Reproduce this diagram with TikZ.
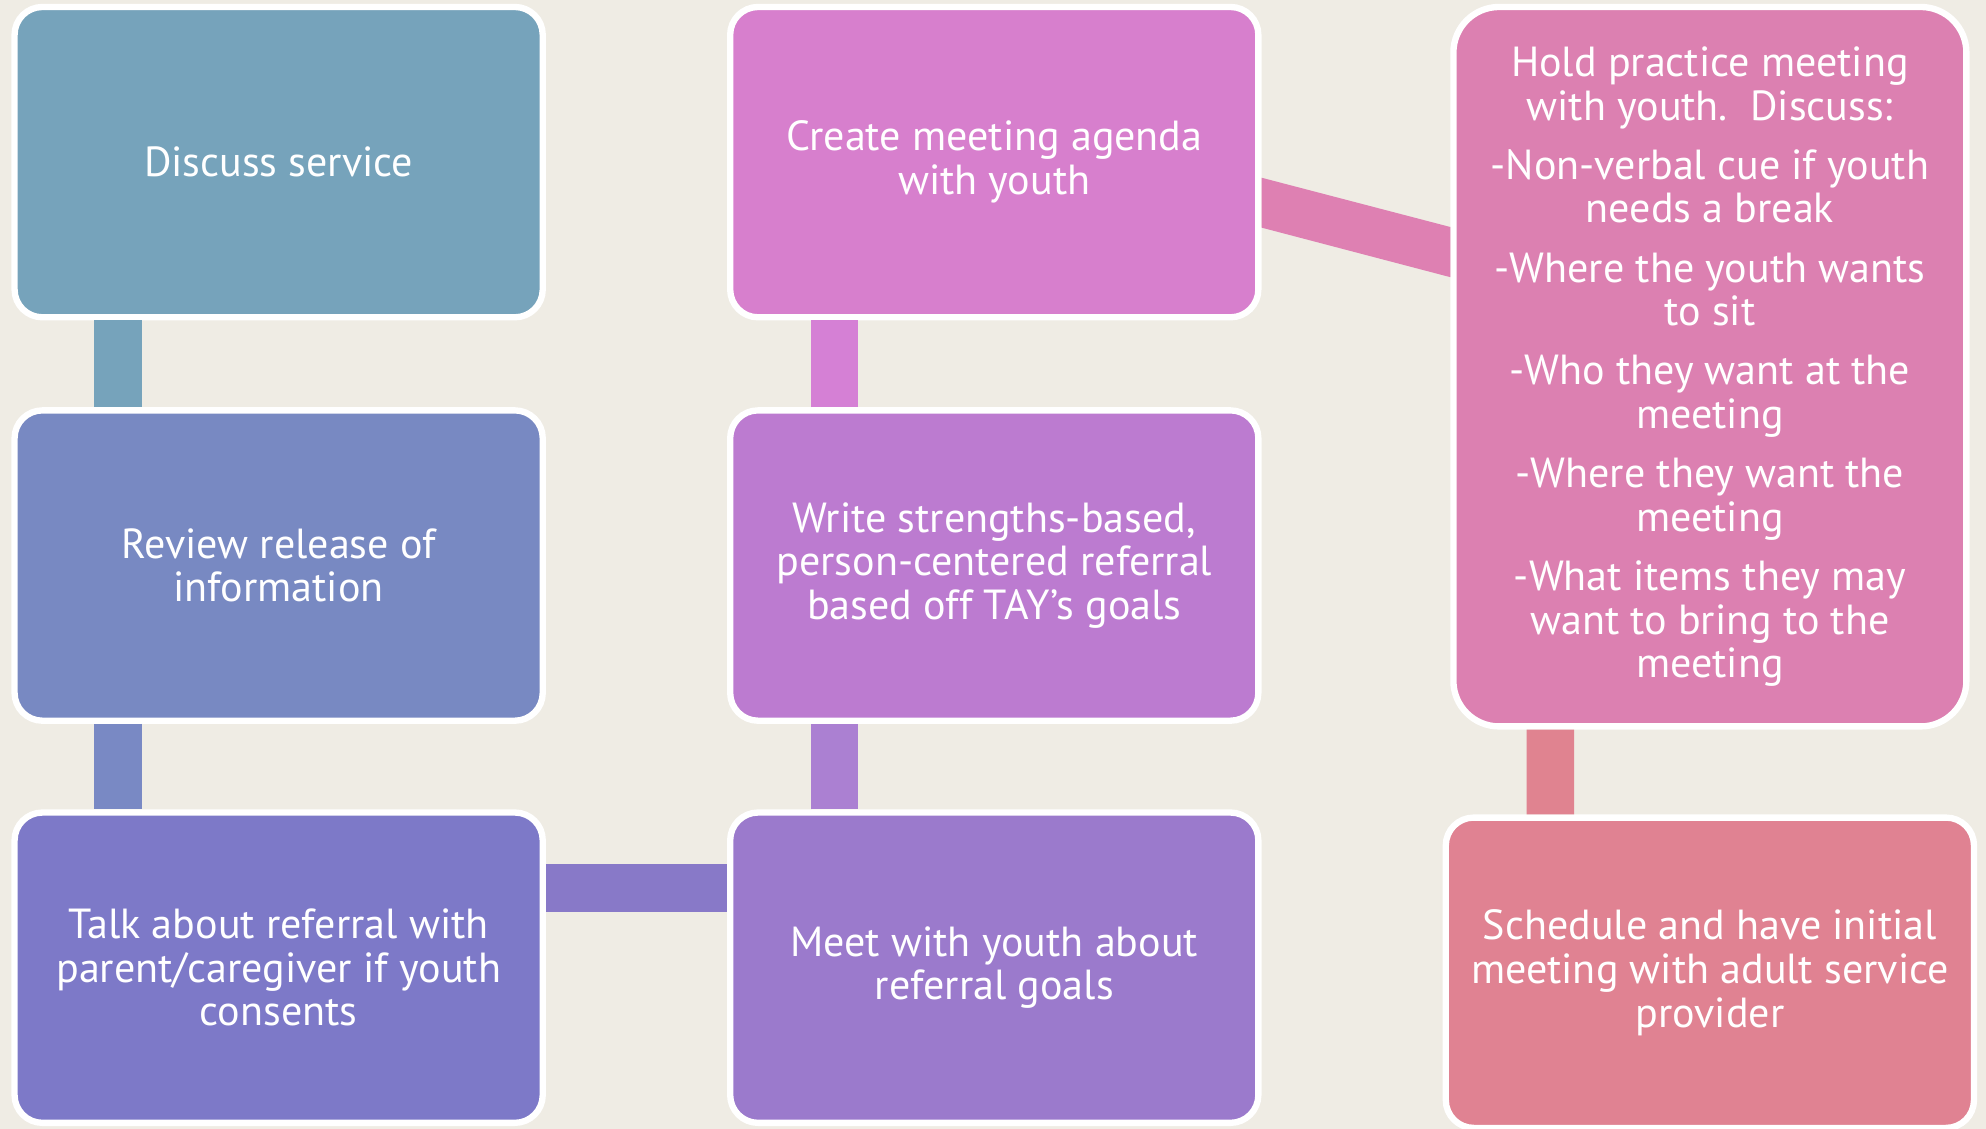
\documentclass[tikz,border=0pt]{standalone}
\usepackage{fontspec}
\setmainfont{PT Sans}
\usetikzlibrary{calc}
\definecolor{bg}{HTML}{EFECE4}
\definecolor{discC}{HTML}{76A3BB}
\definecolor{reviewC}{HTML}{7889C2}
\definecolor{talkC}{HTML}{7D79C8}
\definecolor{meetC}{HTML}{9B7ACC}
\definecolor{writeC}{HTML}{BC7BD0}
\definecolor{createC}{HTML}{D77FCD}
\definecolor{holdC}{HTML}{DC80B1}
\definecolor{schedC}{HTML}{E08292}
\definecolor{linkB}{HTML}{7989C4}
\definecolor{linkC}{HTML}{8879C8}
\definecolor{linkD}{HTML}{AB80D2}
\definecolor{linkE}{HTML}{D580D5}
\definecolor{linkF}{HTML}{DE80B2}
\definecolor{linkG}{HTML}{E08390}

\begin{document}
\begin{tikzpicture}[
  x=0.2mm, y=-0.2mm,
  stepbox/.style={draw=white, line width=1mm, rounded corners=4.4mm, minimum width=83.4mm, minimum height=49mm, align=center, text=white, inner sep=0pt, font=\fontsize{18.9}{19.6}\selectfont},
  bar/.style={line width=7.5mm},
]
\fill[bg] (0,0) rectangle (1568,891);
\useasboundingbox (0,0) rectangle (1568,891);

% first column
\node[stepbox, fill=discC] (disc) at (220,128) {Discuss service};
\node[stepbox, fill=reviewC] (review) at (220,446.5) {Review release of\\information};
\node[stepbox, fill=talkC] (talk) at (220,764) {Talk about referral with\\parent/caregiver if youth\\consents};

% second column
\node[stepbox, fill=meetC] (meet) at (785,764) {Meet with youth about\\referral goals};
\node[stepbox, fill=writeC] (write) at (785,446.5) {Write strengths-based,\\person-centered referral\\based off TAY’s goals};
\node[stepbox, fill=createC] (create) at (785,128) {Create meeting agenda\\with youth};

% third column
\node[stepbox, fill=holdC, minimum width=81mm, minimum height=113.6mm, rounded corners=7.2mm] (hold) at (1350,289.5)
  {Hold practice meeting\\with youth.\ \ Discuss:\\[7pt]
   -Non-verbal cue if youth\\needs a break\\[7pt]
   -Where the youth wants\\to sit\\[7pt]
   -Who they want at the\\meeting\\[7pt]
   -Where they want the\\meeting\\[7pt]
   -What items they may\\want to bring to the\\meeting};
\node[stepbox, fill=schedC] (sched) at (1350,768) {Schedule and have initial\\meeting with adult service\\provider};

% links
\draw[bar, discC] ($(disc.south west)+(84,0)$) -- ($(review.north west)+(84,0)$);
\draw[bar, linkB] ($(review.south west)+(84,0)$) -- ($(talk.north west)+(84,0)$);
\draw[bar, linkC] ($(talk.east)+(0,-63)$) -- ($(meet.west)+(0,-63)$);
\draw[bar, linkD] ($(meet.north west)+(85,0)$) -- ($(write.south west)+(85,0)$);
\draw[bar, linkE] ($(write.north west)+(85,0)$) -- ($(create.south west)+(85,0)$);
% slanted link, ends cut flush with the boxes
\fill[linkF] ($(create.east)+(0,12.3)$) -- ($(hold.west)+(0,-110.3)$)
  -- ($(hold.west)+(0,-70.7)$) -- ($(create.east)+(0,51.7)$) -- cycle;
\draw[bar, linkG] ($(hold.south west)+(79,0)$) -- ($(sched.north west)+(85,0)$);
\end{tikzpicture}
\end{document}
